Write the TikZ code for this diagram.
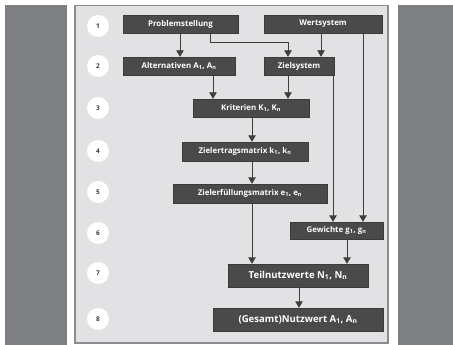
\documentclass[tikz,border=0pt]{standalone}
\usepackage{fontspec}
\setmainfont{Open Sans}
\usetikzlibrary{arrows.meta}
\definecolor{bargray}{HTML}{7F8084}
\definecolor{panelfill}{HTML}{E2E2E4}
\definecolor{panelline}{HTML}{8C8C8E}
\definecolor{boxfill}{HTML}{4A4A4A}
\definecolor{linecol}{HTML}{3E3E3E}
\definecolor{numcol}{HTML}{3A3A3A}
\tikzset{
  stepbox/.style={draw=boxfill!80!black, line width=0.4pt, fill=boxfill, text=white,
    font=\bfseries\fontsize{7.9}{8}\selectfont, inner sep=0pt, anchor=center},
  bigbox/.style={stepbox, font=\bfseries\fontsize{9.6}{10}\selectfont},
  numdot/.style={circle, fill=white, minimum size=22pt, inner sep=0pt,
    font=\bfseries\fontsize{6.5}{7}\selectfont, text=numcol},
  arr/.style={draw=linecol, line width=0.9pt,
    -{Triangle[length=6.5pt, width=7.5pt]}},
}
\begin{document}
\begin{tikzpicture}[x=1pt, y=-1pt]
\useasboundingbox (0,0) rectangle (453,345);
\fill[white] (0,0) rectangle (453,345);
% side bars
\fill[bargray] (5,5) rectangle (67,345);
\fill[bargray] (398,5) rectangle (453,345);
% panel
\draw[panelline, fill=panelfill, line width=1.3pt] (75,5.5) rectangle (388,343);

% step numbers
\foreach \n/\yy in {1/26, 2/66, 3/108, 4/151, 5/192, 6/233, 7/273, 8/319}
  \node[numdot] (n\n) at (98,\yy) {\n};

% boxes
\node[stepbox, minimum width=115pt, minimum height=18pt] (prob) at (180.5,24) {Problemstellung};
\node[stepbox, minimum width=118pt, minimum height=18pt] (wert) at (323,24) {Wertsystem};
\node[stepbox, minimum width=112pt, minimum height=18pt] (alt)  at (179,66) {Alternativen A\textsubscript{1}, A\textsubscript{n}};
\node[stepbox, minimum width=70pt,  minimum height=18pt] (ziel) at (299,66) {Zielsystem};
\node[stepbox, minimum width=116pt, minimum height=18pt] (krit) at (251,108) {Kriterien K\textsubscript{1}, K\textsubscript{n}};
\node[stepbox, minimum width=126pt, minimum height=19pt] (zert) at (245,151.5) {Zielertragsmatrix k\textsubscript{1}, k\textsubscript{n}};
\node[stepbox, minimum width=154pt, minimum height=19pt] (zerf) at (250,193.5) {Zielerfüllungsmatrix e\textsubscript{1}, e\textsubscript{n}};
\node[stepbox, minimum width=93pt,  minimum height=17pt] (gew)  at (336.5,230.5) {Gewichte g\textsubscript{1}, g\textsubscript{n}};
\node[bigbox, minimum width=140pt, minimum height=23pt] (teil) at (298,275.5) {Teilnutzwerte N\textsubscript{1}, N\textsubscript{n}};
\node[bigbox, minimum width=170pt, minimum height=23pt] (ges)  at (298,319.5) {(Gesamt)Nutzwert A\textsubscript{1}, A\textsubscript{n}};

% connector columns
\coordinate (c180) at (180,0);
\coordinate (c210) at (210,0);
\coordinate (c213) at (213,0);
\coordinate (c252) at (252,0);
\coordinate (c288) at (288,0);
\coordinate (c321) at (321,0);
\coordinate (c333) at (333,0);
\coordinate (c347) at (347,0);
\coordinate (c363) at (363,0);
\coordinate (c299) at (299,0);
\coordinate (bend) at (0,42);

% connectors
\draw[arr] (prob.south -| c180) -- (alt.north -| c180);
\draw[arr] (prob.south -| c210) |- (bend -| c288) -- (ziel.north -| c288);
\draw[arr] (wert.south -| c321) -- (ziel.north -| c321);
\draw[arr] (wert.south -| c363) -- (gew.north -| c363);
\draw[arr] (ziel.south -| c333) -- (gew.north -| c333);
\draw[arr] (alt.south -| c213) -- (krit.north -| c213);
\draw[arr] (ziel.south -| c288) -- (krit.north -| c288);
\draw[arr] (krit.south -| c252) -- (zert.north -| c252);
\draw[arr] (zert.south -| c252) -- (zerf.north -| c252);
\draw[arr] (zerf.south -| c252) -- (teil.north -| c252);
\draw[arr] (gew.south -| c347) -- (teil.north -| c347);
\draw[arr] (teil.south -| c299) -- (ges.north -| c299);
\end{tikzpicture}
\end{document}
